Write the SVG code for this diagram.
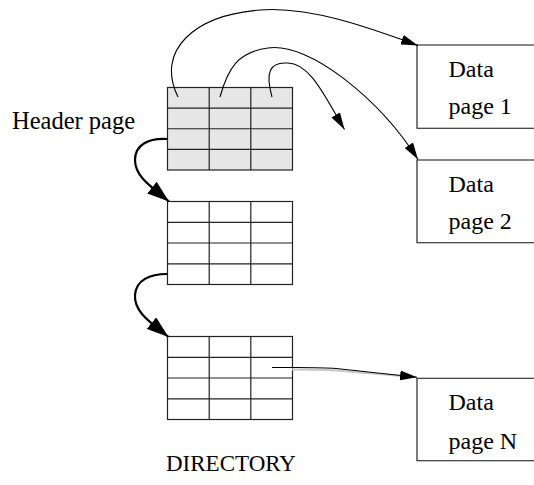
<svg xmlns="http://www.w3.org/2000/svg" width="534" height="485" viewBox="0 0 534 485">
<style>
.t{font-family:"Liberation Serif","Times New Roman",serif;font-size:24px;fill:#000}
.grid{fill:none;stroke:#222;stroke-width:1.2}
.hdr{fill:#e6e6e6;stroke:#222;stroke-width:1.2}
.plain{fill:#fff;stroke:#222;stroke-width:1.2}
.box{fill:none;stroke:#111;stroke-width:1.1}
.thin{fill:none;stroke:#000;stroke-width:1.1}
.thick{fill:none;stroke:#000;stroke-width:2.2}
</style>
<defs>
<marker id="ah" markerUnits="userSpaceOnUse" viewBox="0 0 17 10" refX="17" refY="5" markerWidth="17" markerHeight="10" orient="auto">
<path d="M0,0 L17,5 L0,10 Z" fill="#000"/>
</marker>
<marker id="ahb" markerUnits="userSpaceOnUse" viewBox="0 0 22 15" refX="22" refY="7.5" markerWidth="22" markerHeight="15" orient="auto">
<path d="M0,0 L22,7.5 L0,15 Z" fill="#000"/>
</marker>
</defs>

<g id="header-page">
<rect class="hdr" x="167.5" y="87.5" width="125" height="82.5"/>
<path class="grid" d="M209.2,87.5V170M250.8,87.5V170M167.5,108.1H292.5M167.5,128.75H292.5M167.5,149.4H292.5"/>
<text class="t" x="12" y="129" style="font-size:24.5px">Header page</text>
</g>

<g id="dir-page-2">
<rect class="plain" x="167.5" y="201.5" width="125" height="83"/>
<path class="grid" d="M209.2,201.5V284.5M250.8,201.5V284.5M167.5,222.3H292.5M167.5,243H292.5M167.5,263.8H292.5"/>
</g>

<g id="dir-page-3">
<rect class="plain" x="167.5" y="336.5" width="125" height="83"/>
<path class="grid" d="M209.2,336.5V419.5M250.8,336.5V419.5M167.5,357.3H292.5M167.5,378H292.5M167.5,398.8H292.5"/>
</g>

<g id="directory-label">
<text class="t" x="166" y="471" style="font-size:23px">DIRECTORY</text>
</g>

<g id="data-page-1">
<path class="box" d="M540,45H417V128.3H540"/>
<text class="t" x="448.5" y="77">Data</text>
<text class="t" x="448.5" y="114">page 1</text>
</g>

<g id="data-page-2">
<path class="box" d="M540,160H417V242.7H540"/>
<text class="t" x="448.5" y="192">Data</text>
<text class="t" x="448.5" y="229">page 2</text>
</g>

<g id="data-page-n">
<path class="box" d="M540,378.3H417V460.7H540"/>
<text class="t" x="448.5" y="410">Data</text>
<text class="t" x="448.5" y="449">page N</text>
</g>

<g id="connectors">
<path class="thin" marker-end="url(#ah)" d="M178,97 C155,50 195,15 260,10 C310,6 370,28 418,45.5"/>
<path class="thin" marker-end="url(#ah)" d="M220,97 C228,68 238,52 268,48 C310,42 380,100 418,159.5"/>
<path class="thin" marker-end="url(#ah)" d="M272,97 C265,72 270,62 287,63 C310,62 326,99 344.5,129.5"/>
<path class="thick" marker-end="url(#ahb)" d="M167,139 C148,138 135,145 135,160 C135,176 150,186 169,201.5"/>
<path class="thick" marker-end="url(#ahb)" d="M167,274 C150,274 136,280 135,295 C134,312 150,322 168.5,337"/>
<path d="M292,369.5 C310,369.5 322,369.5 336,370.5 L402,376" fill="none" stroke="#c8c8c8" stroke-width="2"/>
<path class="thin" marker-end="url(#ah)" d="M272,367.5 C300,367.5 320,367 336,368.5 L417,377.3"/>
</g>
</svg>
